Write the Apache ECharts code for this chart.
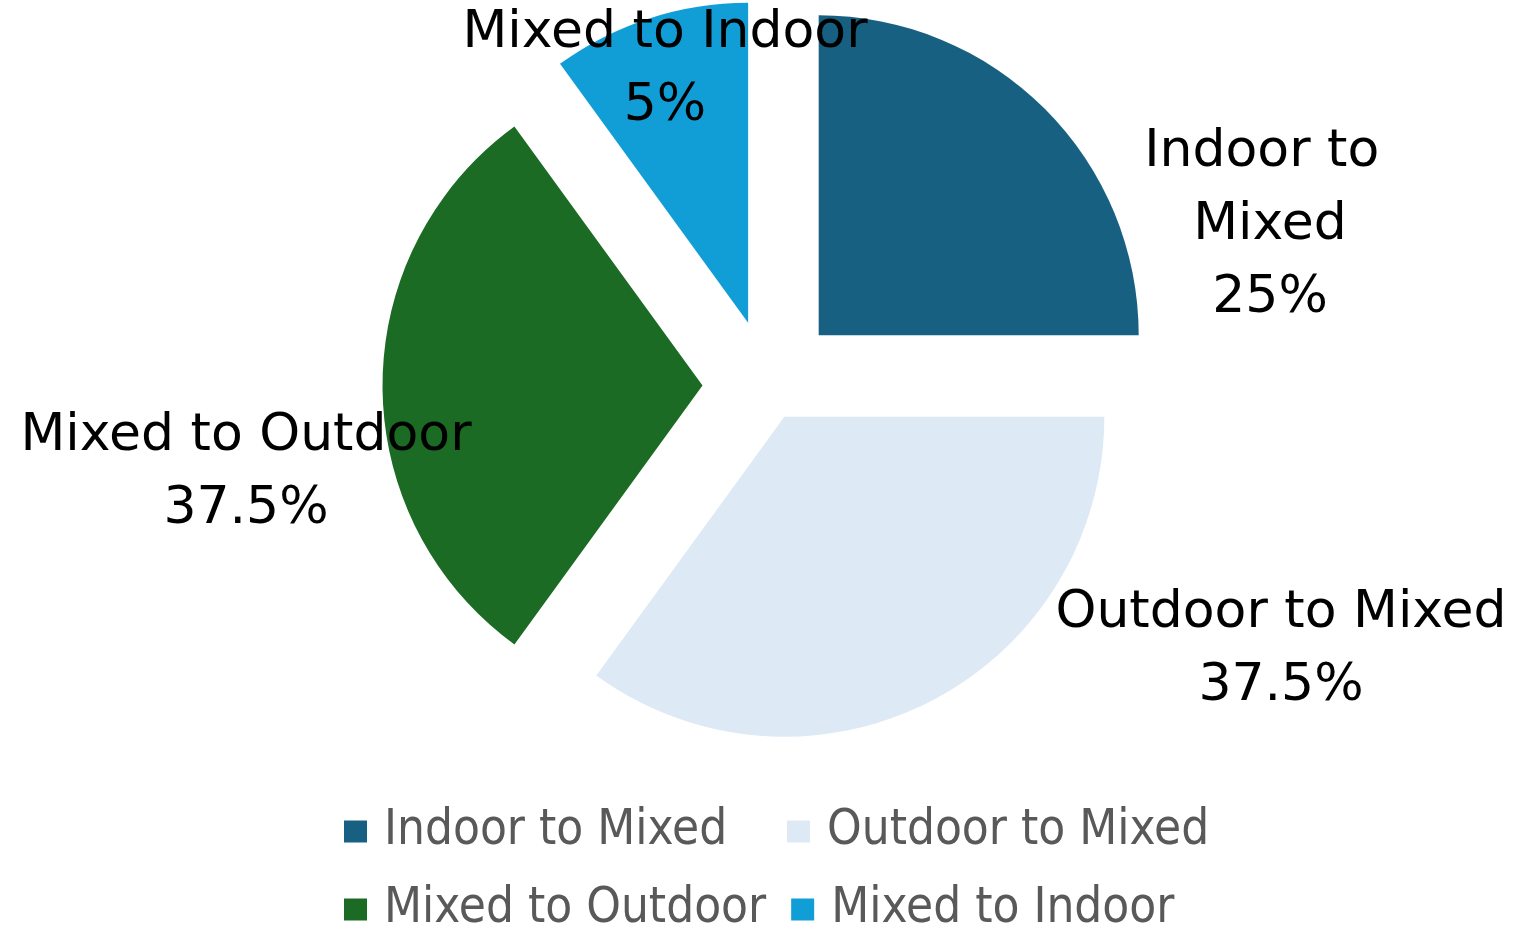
<!DOCTYPE html>
<html><head><meta charset="utf-8">
<script src="https://cdn.jsdelivr.net/npm/echarts@6/dist/echarts.min.js"></script>
<style>html,body{margin:0;padding:0;background:#fff}#c{width:1521px;height:927px}</style>
</head><body><div id="c"></div>
<script>
// ---- data ----
const categories = ['Indoor to Mixed', 'Outdoor to Mixed', 'Mixed to Outdoor', 'Mixed to Indoor'];
const values = [25, 35, 30, 10];                       // slice sizes as drawn
const percentLabels = ['25%', '37.5%', '37.5%', '5%']; // label texts as printed

// ---- styles / layout ----
const colors = ['#186082', '#DDEAF6', '#1B6B24', '#119ED6'];
const explodeOffsets = [71, 35, 66, 66];               // how far each slice is pulled out (px)
const pieCenter = [768.5, 385.5];
const pieRadius = 320;
const labelPos = [[1270, 225], [1281, 650], [246, 473], [665, 70]];
const labelWidth = [260, 480, 480, 440];
const labelFont = 'DejaVu Sans';
const legendFont = '"DejaVu Sans Condensed", "Liberation Sans Narrow", "DejaVu Sans", sans-serif';

const base = {
  type: 'pie',
  center: pieCenter,
  radius: pieRadius,
  startAngle: 90,
  clockwise: true,
  avoidLabelOverlap: false,
  emphasis: { disabled: true, scale: false },
  itemStyle: { borderWidth: 0 },
  labelLine: { show: false }
};

// one pie series per explode distance; slices of other groups are transparent
const groups = [...new Set(explodeOffsets)];
const sliceSeries = groups.map(off => Object.assign({}, base, {
  selectedMode: 'multiple',
  selectedOffset: off,
  select: { itemStyle: { borderWidth: 0 } },
  label: { show: false },
  data: categories.map((name, i) => {
    const own = explodeOffsets[i] === off;
    return {
      name: name,
      value: values[i],
      selected: own,
      itemStyle: { color: own ? colors[i] : 'rgba(0,0,0,0)' }
    };
  })
}));

// label-only series (same slices, invisible) carrying the data labels
const labelSeries = Object.assign({}, base, {
  silent: true,
  z: 5,
  label: {
    show: true,
    position: 'outside',
    formatter: p => p.name + '\n' + percentLabels[p.dataIndex],
    fontFamily: labelFont,
    fontSize: 52,
    lineHeight: 73,
    color: '#000',
    align: 'center',
    overflow: 'break'
  },
  labelLayout: p => ({
    x: labelPos[p.dataIndex][0],
    y: labelPos[p.dataIndex][1],
    align: 'center',
    verticalAlign: 'middle'
  }),
  data: categories.map((name, i) => ({
    name: name,
    value: values[i],
    itemStyle: { color: 'rgba(0,0,0,0)' },
    label: { width: labelWidth[i] }
  }))
});

const chart = echarts.init(document.getElementById('c'), null, { renderer: 'canvas' });
chart.setOption({
  animation: false,
  backgroundColor: '#fff',
  legend: {
    data: categories.map((n, i) => ({ name: n, itemStyle: { color: colors[i] } })),
    left: 339,
    top: 800,
    width: 880,
    orient: 'horizontal',
    icon: 'rect',
    itemWidth: 23,
    itemHeight: 22,
    itemGap: 25,
    selectedMode: false,
    textStyle: {
      fontFamily: legendFont,
      fontSize: 49,
      color: '#595959',
      width: 378,
      overflow: 'none',
      lineHeight: 53,
      padding: [0, 0, 0, 12]
    }
  },
  series: sliceSeries.concat([labelSeries])
});
</script>
</body></html>
